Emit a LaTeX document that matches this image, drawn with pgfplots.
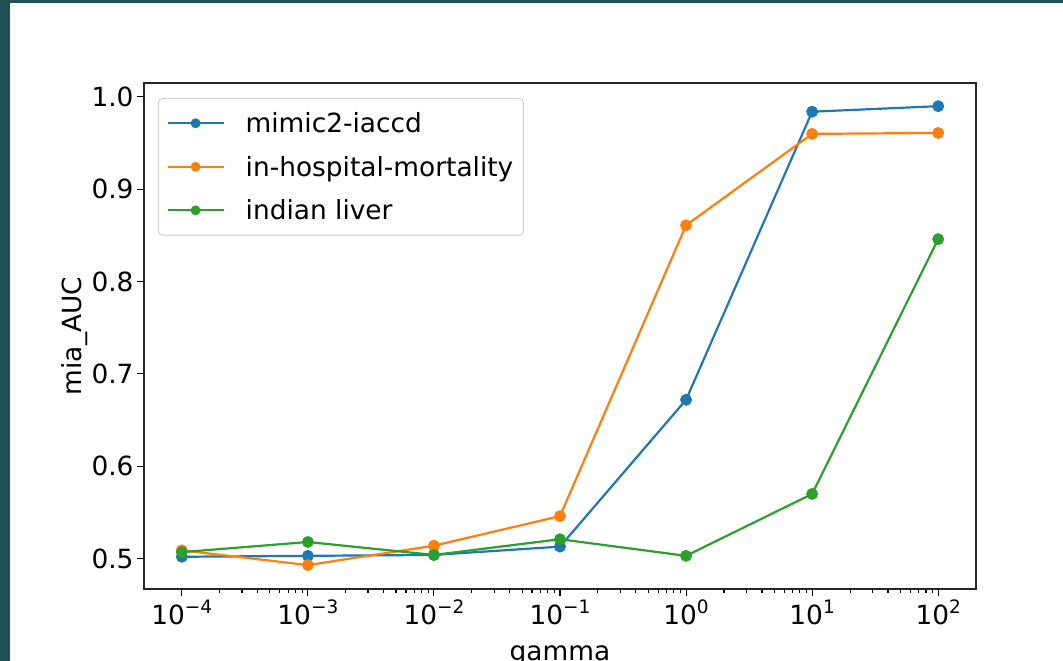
\documentclass[border=0pt]{standalone}
\usepackage{pgfplots}
\pgfplotsset{compat=1.18}
\usepackage{fontspec}
\setmainfont{DejaVu Sans}
\definecolor{bg}{HTML}{1F4F57}
\definecolor{mblue}{HTML}{1F77B4}
\definecolor{morange}{HTML}{FF7F0E}
\definecolor{mgreen}{HTML}{2CA02C}
\newcommand{\pw}[1]{10\raisebox{0.42em}{\fontsize{18.5}{20}\selectfont #1}}
\newcommand{\mn}{\char"2212\relax}
\begin{document}
\begin{tikzpicture}
\fill[bg] (0pt,0pt) rectangle (1063pt,661pt);
\fill[white] (10pt,0pt) rectangle (1063pt,658pt);
\begin{scope}
\clip (0pt,0pt) rectangle (1063pt,661pt);
\begin{axis}[
  at={(144pt,72pt)}, anchor=south west,
  scale only axis, width=832pt, height=506pt,
  xmode=log,
  xmin=5.0119e-5, xmax=199.53,
  ymin=0.4671, ymax=1.0151,
  xtick={1e-4,1e-3,1e-2,1e-1,1,10,100},
  xticklabels={\pw{\mn4},\pw{\mn3},\pw{\mn2},\pw{\mn1},\pw{0},\pw{1},\pw{2}},
  ytick={0.5,0.6,0.7,0.8,0.9,1.0},
  yticklabels={0.5,0.6,0.7,0.8,0.9,1.0},
  minor xtick={2e-4,3e-4,4e-4,5e-4,6e-4,7e-4,8e-4,9e-4,2e-3,3e-3,4e-3,5e-3,6e-3,7e-3,8e-3,9e-3,2e-2,3e-2,4e-2,5e-2,6e-2,7e-2,8e-2,9e-2,0.2,0.3,0.4,0.5,0.6,0.7,0.8,0.9,2,3,4,5,6,7,8,9,20,30,40,50,60,70,80,90},
  tick align=outside,
  tick pos=left,
  major tick length=7pt,
  minor tick length=4pt,
  every tick/.style={black, line width=1.1pt},
  axis line style={line width=1.1pt, black!85},
  tick label style={font=\fontsize{26.4}{31}\selectfont},
  label style={font=\fontsize{26.4}{31}\selectfont},
  xlabel={gamma},
  ylabel={mia\_AUC},
  xlabel style={yshift=-14pt},
  ylabel style={yshift=-3pt},
  legend style={at={(0,1)}, anchor=north west, xshift=14pt, yshift=-15pt,
    draw=black!18, rounded corners=4pt, line width=1pt,
    font=\fontsize{26.4}{31}\selectfont,
    inner xsep=8pt, inner ysep=12pt, row sep=18pt, column sep=19pt,
    cells={anchor=west}},
  legend image code/.code={\draw[mark repeat=2,mark phase=2, mark size=3.8pt] plot coordinates {(0pt,0pt) (28pt,0pt) (56pt,0pt)};},
  every axis plot/.append style={line width=2.2pt, mark=*, mark size=4.8pt},
]
\addplot[color=mblue, mark options={fill=mblue, draw=mblue}] coordinates {
(1e-4,0.502) (1e-3,0.503) (1e-2,0.504) (1e-1,0.513) (1,0.672) (10,0.984) (100,0.990)};
\addlegendentry{mimic2-iaccd}
\addplot[color=morange, mark options={fill=morange, draw=morange}] coordinates {
(1e-4,0.509) (1e-3,0.493) (1e-2,0.514) (1e-1,0.546) (1,0.861) (10,0.960) (100,0.961)};
\addlegendentry{in-hospital-mortality}
\addplot[color=mgreen, mark options={fill=mgreen, draw=mgreen}] coordinates {
(1e-4,0.507) (1e-3,0.518) (1e-2,0.504) (1e-1,0.521) (1,0.503) (10,0.570) (100,0.846)};
\addlegendentry{indian liver}
\end{axis}
\end{scope}
\useasboundingbox (0pt,0pt) rectangle (1063pt,661pt);
\end{tikzpicture}
\end{document}
